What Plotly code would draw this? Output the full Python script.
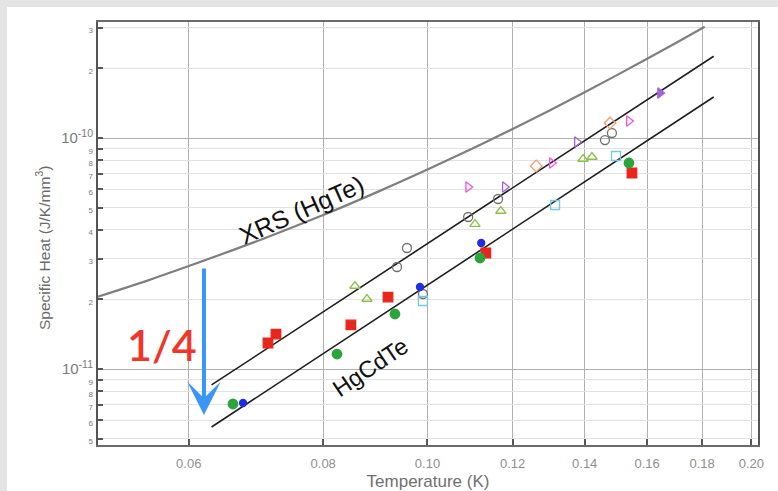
import plotly.graph_objects as go
import math

# ---------------- data ----------------
# XRS (HgTe) heat-capacity curve
xrs_T = [0.0493, 0.055, 0.060, 0.070, 0.080, 0.090, 0.100, 0.110, 0.120, 0.130, 0.140, 0.150, 0.160, 0.170, 0.181]
xrs_C = [2.05e-11, 2.42e-11, 2.79e-11, 3.63e-11, 4.64e-11, 5.86e-11, 7.30e-11, 8.98e-11, 1.094e-10, 1.320e-10,
         1.579e-10, 1.872e-10, 2.202e-10, 2.572e-10, 3.03e-10]

# HgCdTe fit lines (T^3)
fit_T = [0.0630, 0.1845]
fit_upper_C = [8.53e-12, 2.26e-10]
fit_lower_C = [5.61e-12, 1.505e-10]

# measured points, grouped by marker style
red_T = [0.07108, 0.07231, 0.08489, 0.09190, 0.1133, 0.1549]
red_C = [1.296e-11, 1.417e-11, 1.551e-11, 2.049e-11, 3.178e-11, 7.056e-11]

green_T = [0.06595, 0.08240, 0.09328, 0.1119, 0.1539]
green_C = [7.056e-12, 1.161e-11, 1.730e-11, 3.024e-11, 7.794e-11]

blue_T = [0.06739, 0.09841, 0.1122]
blue_C = [7.127e-12, 2.265e-11, 3.511e-11]

grayo_T = [0.09369, 0.09571, 0.09904, 0.1091, 0.1163, 0.1462, 0.1484]
grayo_C = [2.764e-11, 3.341e-11, 2.112e-11, 4.550e-11, 5.445e-11, 9.80e-11, 1.051e-10]

tri_T = [0.08562, 0.08786, 0.1107, 0.1170, 0.1395, 0.1422]
tri_C = [2.287e-11, 2.009e-11, 4.242e-11, 4.831e-11, 8.112e-11, 8.275e-11]

cyan_T = [0.09904, 0.1314, 0.1497]
cyan_C = [1.970e-11, 5.129e-11, 8.36e-11]

pink_T = [0.1091, 0.1305, 0.1539]
pink_C = [6.135e-11, 7.794e-11, 1.185e-10]

purple_T = [0.1180, 0.1377]
purple_C = [6.135e-11, 9.61e-11]

purplef_T = [0.1645]
purplef_C = [1.566e-10]

orange_T = [0.1262, 0.1478]
orange_C = [7.564e-11, 1.161e-10]

# axis ticks
x_tickvals = [0.06, 0.08, 0.10, 0.12, 0.14, 0.16, 0.18, 0.20]
x_ticktext = ["0.06", "0.08", "0.10", "0.12", "0.14", "0.16", "0.18", "0.20"]
y_decades = [1e-11, 1e-10]
y_tickvals = [5e-12, 6e-12, 7e-12, 8e-12, 9e-12, 1e-11, 2e-11, 3e-11, 4e-11, 5e-11, 6e-11, 7e-11, 8e-11, 9e-11,
              1e-10, 2e-10, 3e-10]
y_ticklabels = ["5", "6", "7", "8", "9", "10<sup>-11</sup>", "2", "3", "4", "5", "6", "7", "8", "9",
                "10<sup>-10</sup>", "2", "3"]

FONT = "Liberation Sans, Arial, sans-serif"


def small(t):
    if t.startswith("10"):
        return t
    return "<span style='font-size:8px'>" + t + "</span>"


y_ticktext = [small(t) for t in y_ticklabels]

fig = go.Figure()

fig.add_trace(go.Scatter(x=xrs_T, y=xrs_C, mode="lines", line=dict(color="#7f7f7f", width=2.2, shape="spline"),
                         hoverinfo="skip"))
fig.add_trace(go.Scatter(x=fit_T, y=fit_upper_C, mode="lines", line=dict(color="#1e1e1e", width=1.6)))
fig.add_trace(go.Scatter(x=fit_T, y=fit_lower_C, mode="lines", line=dict(color="#1e1e1e", width=1.6)))


def pts(T, C, symbol, color, size=9, lw=1.3):
    fig.add_trace(go.Scatter(x=T, y=C, mode="markers",
                             marker=dict(symbol=symbol, color=color, size=size,
                                         line=dict(color=color, width=lw))))


pts(grayo_T, grayo_C, "circle-open", "#6f6f6f")
pts(tri_T, tri_C, "triangle-up-open", "#8cbf4a")
pts(cyan_T, cyan_C, "square-open", "#78c6e6")
pts(pink_T, pink_C, "triangle-right-open", "#ee55dd")
pts(purple_T, purple_C, "triangle-right-open", "#a064dc")
pts(purplef_T, purplef_C, "triangle-right", "#a064dc")
pts(orange_T, orange_C, "diamond-open", "#f0a070")
pts(red_T, red_C, "square", "#e8261c", size=9.5)
pts(green_T, green_C, "circle", "#2aa53a", size=9.5)
pts(blue_T, blue_C, "circle", "#1f2fe0", size=7)

# overlay axis only for the darker decade gridlines
fig.add_trace(go.Scatter(x=[], y=[], yaxis="y2", showlegend=False))

xr = [-1.3062, -0.6928]
yr = [-11.329, -9.4978]

fig.update_layout(
    width=778, height=491,
    margin=dict(l=98, r=20, t=22, b=46),
    paper_bgcolor="#e4e4e4",
    plot_bgcolor="white",
    showlegend=False,
    font=dict(family=FONT, color="#666666"),
    xaxis=dict(type="log", range=xr, tickvals=x_tickvals, ticktext=x_ticktext, automargin=False,
               showgrid=True, gridcolor="#b0b0b0", gridwidth=1.4,
               showline=True, linecolor="#6a6a6a", linewidth=2, mirror=True,
               ticks="inside", ticklen=6, tickcolor="#555", tickwidth=1.5,
               tickfont=dict(size=13, color="#8e8e8e"), ticklabelstandoff=5,
               title=dict(text="Temperature (K)", font=dict(size=17, color="#707070"), standoff=6),
               zeroline=False),
    yaxis=dict(type="log", range=yr, tickvals=y_tickvals, ticktext=y_ticktext, automargin=False,
               showgrid=True, gridcolor="#e2e2e2", gridwidth=1,
               showline=True, linecolor="#555555", linewidth=2, mirror=True,
               ticks="inside", ticklen=5, tickcolor="#555", tickwidth=1.5,
               tickfont=dict(size=15, color="#7a7a7a"),
               zeroline=False),
    yaxis2=dict(type="log", range=yr, overlaying="y", tickvals=y_decades, showticklabels=False,
                showgrid=True, gridcolor="#b0b0b0", gridwidth=1.4, ticks="", showline=False,
                zeroline=False, automargin=False),
    shapes=[dict(type="rect", xref="paper", yref="paper", x0=-0.1379, x1=1.04, y0=-0.12, y1=1.0355,
                 fillcolor="white", line=dict(width=0), layer="below")],
    annotations=[
        dict(text="Specific Heat (J/K/mm<sup>3</sup>)", xref="paper", yref="paper",
             x=(43 - 98) / 660, y=(445 - 248) / 423, xanchor="center", yanchor="middle",
             textangle=-90, showarrow=False,
             font=dict(size=15.5, color="#6a6a6a", family=FONT)),
        dict(text="XRS (HgTe)", x=math.log10(0.0763), y=-10.312, textangle=-24, showarrow=False,
             xanchor="center", yanchor="middle",
             font=dict(size=25, color="#111111", family=FONT)),
        dict(text="HgCdTe", x=math.log10(0.0886), y=-10.992, textangle=-34, showarrow=False,
             xanchor="center", yanchor="middle",
             font=dict(size=23.5, color="#111111", family=FONT)),
        dict(text="1/4", x=-1.2467, y=-10.896, showarrow=False, xanchor="center", yanchor="middle",
             font=dict(size=43, color="#f2352a", family="Lato, sans-serif", weight=600)),
        dict(text="", x=-1.2077, y=-11.1991, ax=-1.2077, ay=-10.5584, axref="x", ayref="y",
             showarrow=True, arrowhead=3, arrowwidth=4, arrowsize=1.4, arrowcolor="#3a96f6"),
    ],
)

fig.write_html("out.html")
